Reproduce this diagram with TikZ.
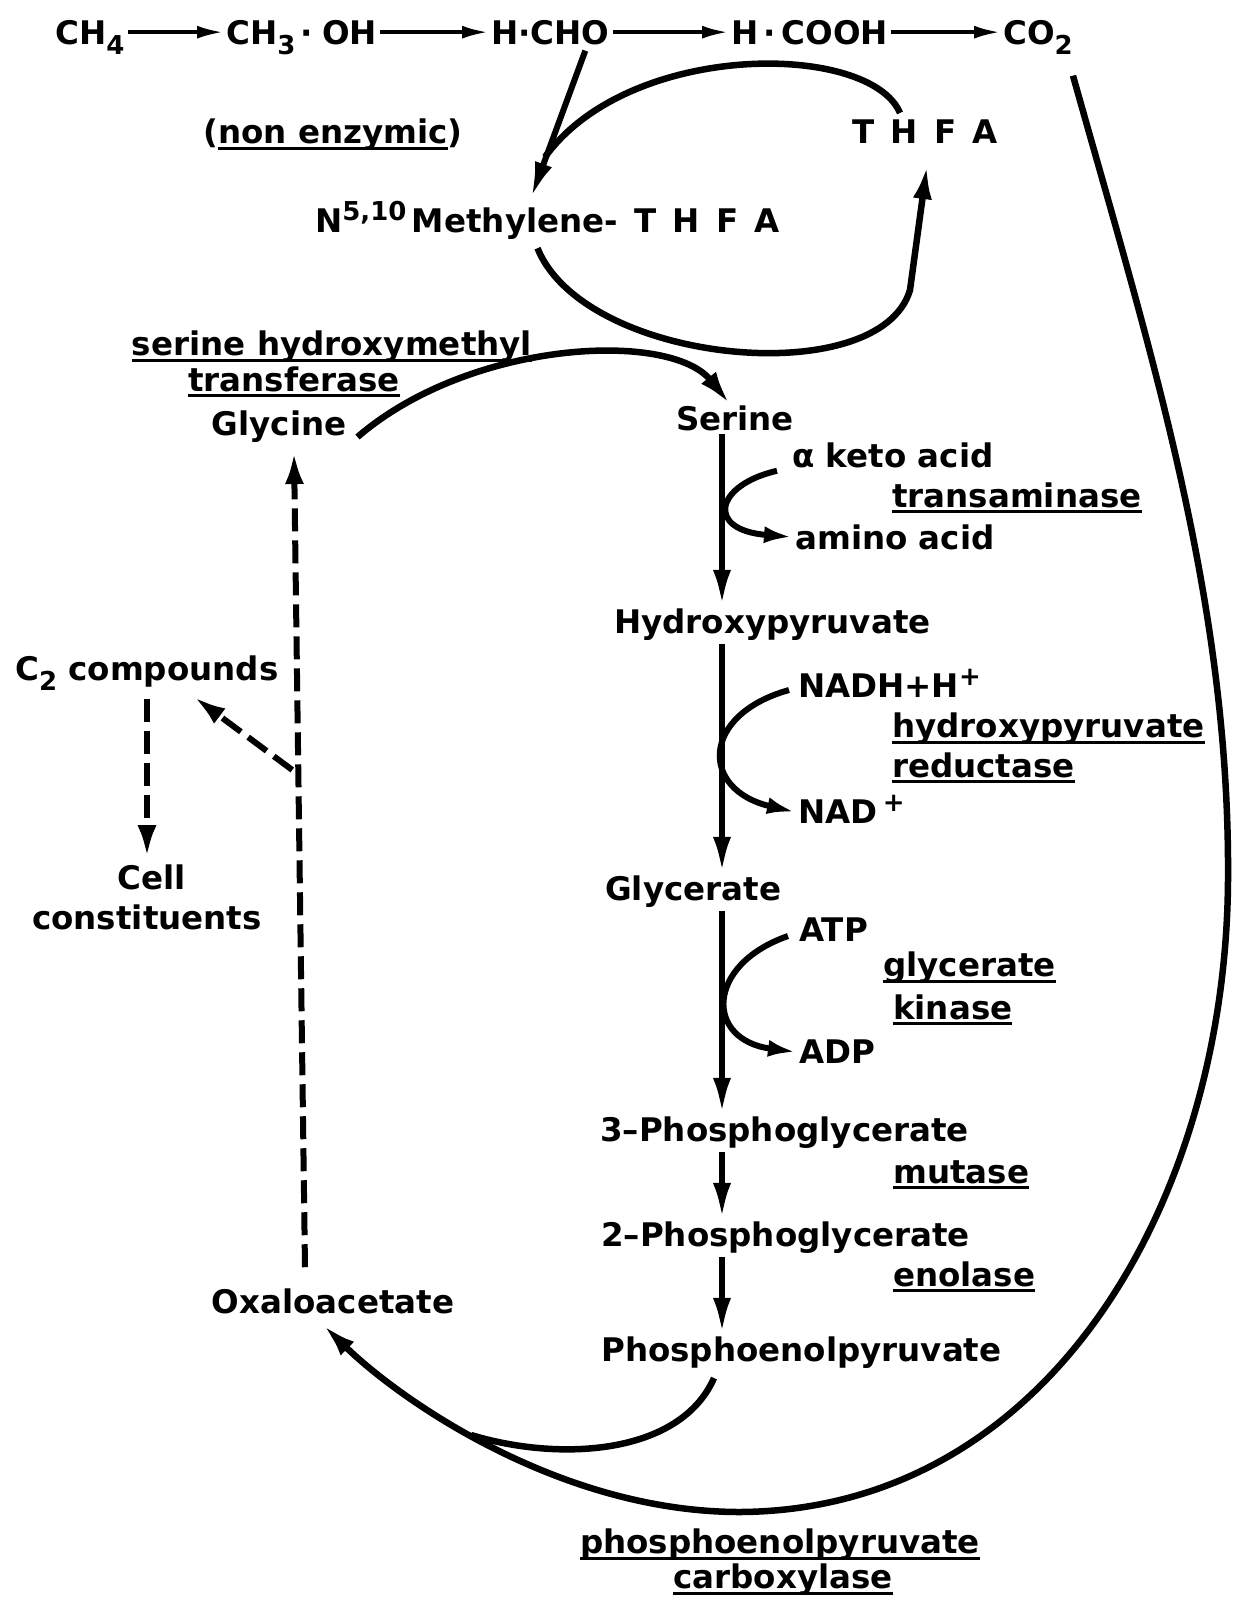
\documentclass[tikz,border=0pt]{standalone}
\usepackage{fontspec}
\setmainfont{DejaVu Sans}
\usetikzlibrary{arrows.meta,calc}
% underlined enzyme name
\newcommand{\enzl}[1]{\sbox0{#1}\rlap{\rule[-6pt]{\wd0}{3pt}}\usebox0}
% lowered and raised indices
\newcommand{\lowidx}[1]{\raisebox{-10pt}[0pt][0pt]{\fontsize{26}{26}\selectfont #1}}
\newcommand{\highidx}[1]{\raisebox{12pt}[0pt][0pt]{\fontsize{26}{26}\selectfont #1}}
\begin{document}
\begin{tikzpicture}[x=1pt, y=-1pt,
    every node/.style={inner sep=3pt, font=\bfseries\fontsize{32.5}{38}\selectfont},
    toprxn/.style={line width=3.5pt, -{Latex[length=26pt,width=13pt]}},
    rxn/.style={line width=6pt, -{Latex[length=36pt,width=18pt]}},
    side/.style={line width=6pt, -{Latex[length=28pt,width=17pt]}},
    loopline/.style={line width=6.5pt},
    looptip/.style={-{Latex[length=34pt,width=19pt]}},
    dasharr/.style={line width=6pt, dash pattern=on 23pt off 9pt, -{Latex[length=32pt,width=19pt]}}]
\useasboundingbox (0,0) rectangle (1233,1606);
% Oxidacao do metano
\node[anchor=base west] (ch4) at (52,44) {CH\lowidx{4}};
\node[anchor=base west] (ch3oh) at (223,44) {CH\lowidx{3}\,·\;OH};
\node[anchor=base west] (hcho) at (488,44) {H·CHO};
\node[anchor=base west] (hcooh) at (728,44) {H\,·\,COOH};
\node[anchor=base west] (co2) at (1000,44) {CO\lowidx{2}};
\draw[toprxn] (ch4) -- (ch3oh);
\draw[toprxn] (ch3oh) -- (hcho);
\draw[toprxn] (hcho) -- (hcooh);
\draw[toprxn] (hcooh) -- (co2);
% Ciclo do THFA
\node (nonenz) at (333,135) {(\enzl{non enzymic})};
\node (thfa) at (925,132) {T\enspace H\enspace F\enspace A};
\node[anchor=base west] (mthf) at (312,232) {N\highidx{5,10}\,Methylene-\enspace T\enspace H\enspace F\enspace A};
\coordinate (mthfin) at (531,198);
\coordinate (join) at (545,157);
\draw[rxn] ($(hcho.south)+(35,3)$) -- (mthfin);
\draw[loopline] ($(thfa.north)+(-25,-4)$) .. controls (870,42) and (630,40) .. (join);
\draw[loopline, looptip] ($(mthf.south)+(-10,6)$)
    .. controls (585,365) and (880,392) .. (910,290) -- ($(thfa.south)+(2,18)$);
% Glicina -> serina
\node (shmt1) at (332,347) {\enzl{serine hydroxymethyl}};
\node (shmt2) at (294,382) {\enzl{transferase}};
\node (glycine) at (279,427) {Glycine};
\node (serine) at (735,418) {Serine};
\draw[loopline, looptip] ($(glycine.east)+(8,10)$)
    .. controls (470,340) and (670,330) .. ($(serine.north)+(-5,2)$);
% Via principal
\coordinate (col) at (722,0);
\node[anchor=west] (keto) at (789,455) {α keto acid};
\node[anchor=west] (transam) at (889,498) {\enzl{transaminase}};
\node[anchor=west] (amino) at (792,537) {amino acid};
\node[anchor=west] (hydroxypyr) at (611,625) {Hydroxypyruvate};
\node[anchor=west] (nadh) at (795,686) {NADH+H\highidx{+}};
\node[anchor=west] (hpr1) at (889,729) {\enzl{hydroxypyruvate}};
\node[anchor=west] (hpr2) at (889,768) {\enzl{reductase}};
\node[anchor=west] (nad) at (795,812) {NAD\,\highidx{+}};
\node[anchor=west] (glycerate) at (602,892) {Glycerate};
\node[anchor=west] (atp) at (796,930) {ATP};
\node[anchor=west] (gk1) at (880,968) {\enzl{glycerate}};
\node[anchor=west] (gk2) at (890,1010) {\enzl{kinase}};
\node[anchor=west] (adp) at (796,1052) {ADP};
\node[anchor=west] (pg3) at (597,1133) {3–Phosphoglycerate};
\node[anchor=west] (mutase) at (890,1175) {\enzl{mutase}};
\node[anchor=west] (pg2) at (598,1238) {2–Phosphoglycerate};
\node[anchor=west] (enolase) at (890,1277) {\enzl{enolase}};
\node[anchor=west] (pep) at (598,1353) {Phosphoenolpyruvate};
\draw[rxn] (col |- serine.south) -- (col |- hydroxypyr.north);
\draw[rxn] (col |- hydroxypyr.south) -- (col |- glycerate.north);
\draw[rxn] (col |- glycerate.south) -- (col |- pg3.north);
\draw[rxn] (col |- pg3.south) -- (col |- pg2.north);
\draw[rxn] (col |- pg2.south) -- (col |- pep.north);
% Ramos laterais
\draw[side] ($(keto.south west)+(-12,0)$) .. controls (715,485) and (705,530) .. (amino.west);
\draw[side] ($(nadh.west)+(-6,4)$) .. controls (700,715) and (700,790) .. (nad.west);
\draw[side] ($(atp.west)+(-8,6)$) .. controls (705,965) and (705,1040) .. (adp.west);
% Carboxilacao do PEP
\node (oxalo) at (333,1301) {Oxaloacetate};
\node (pepc1) at (780,1545) {\enzl{phosphoenolpyruvate}};
\node (pepc2) at (783,1580) {\enzl{carboxylase}};
\coordinate (join2) at (471,1435);
\draw[loopline, looptip] ($(co2.south east)+(-3,28)$)
    .. controls (1150,350) and (1230,600) .. (1228,880)
    .. controls (1226,1200) and (1050,1510) .. (740,1512)
    .. controls (560,1512) and (400,1400) .. ($(oxalo.south)+(-10,8)$);
\draw[loopline] ($(pep.south west)+(116,6)$) .. controls (680,1455) and (560,1462) .. (join2);
% Ramo tracejado
\node[anchor=west] (c2comp) at (12,672) {C\lowidx{2} compounds};
\node (cell) at (152,877) {Cell};
\node (constit) at (147,917) {constituents};
\coordinate (dashfoot) at ($(oxalo.north)+(-28,-18)$);
\coordinate (dashtop) at ($(glycine.south)+(15,6)$);
\coordinate (cellcol) at (147,0);
\draw[dasharr] (dashfoot) -- (dashtop);
\draw[dasharr] ($(dashfoot)!0.61!(dashtop)+(-6,0)$) -- ($(c2comp.south west)+(182,6)$);
\draw[dasharr] ($(cellcol |- c2comp.south)+(0,8)$) -- ($(cellcol |- cell.north)+(0,-4)$);
\end{tikzpicture}
\end{document}
